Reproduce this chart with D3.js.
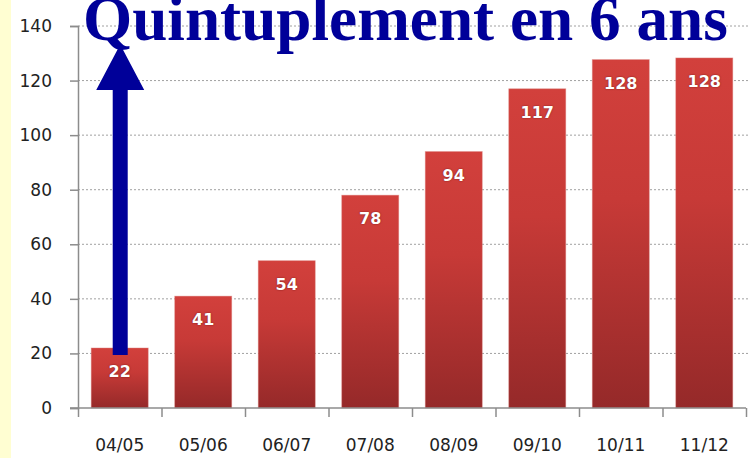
<!DOCTYPE html>
<html>
<head>
<meta charset="utf-8">
<script src="https://cdn.jsdelivr.net/npm/d3@7"></script>
<style>
  html, body { margin: 0; padding: 0; background: #fff; }
  #chart { width: 749px; height: 458px; position: relative; }
</style>
</head>
<body>
<div id="chart"></div>
<script>
//Données
const saisons = ['04/05', '05/06', '06/07', '07/08', '08/09', '09/10', '10/11', '11/12'];
const valeurs = [22, 41, 54, 78, 94, 117, 127.7, 128.3];
const yTicks = [0, 20, 40, 60, 80, 100, 120, 140];
const titre = 'Quintuplement en 6 ans';

const COLOR_TITLE = '#000099',
    COLOR_BAR_TOP = '#D2403C',
    COLOR_BAR_MID = '#C73A37',
    COLOR_BAR_BOTTOM = '#952929',
    COLOR_AXIS = '#8c8c8c',
    COLOR_GRID = '#a0a0a0';

let width = 749, height = 458;
let margin = {top: 26, right: 3, bottom: 50, left: 78};

let svg = d3.select('#chart')
    .append('svg')
    .attr('width', width)
    .attr('height', height);

//Bande jaune à gauche
svg.append('rect')
    .attr('x', 0).attr('y', 0)
    .attr('width', 11).attr('height', height)
    .attr('fill', '#FFFED2');

let x = d3.scaleBand()
    .domain(saisons)
    .range([margin.left, width - margin.right])
    .paddingInner(0.317)
    .paddingOuter(0.158);

let y = d3.scaleLinear()
    .domain([0, 140])
    .range([height - margin.bottom, margin.top]);

//Dégradé des barres
let defs = svg.append('defs');
let grad = defs.append('linearGradient')
    .attr('id', 'barGrad')
    .attr('x1', 0).attr('y1', 0).attr('x2', 0).attr('y2', 1);
grad.append('stop').attr('offset', '0%').attr('stop-color', COLOR_BAR_TOP);
grad.append('stop').attr('offset', '40%').attr('stop-color', COLOR_BAR_MID);
grad.append('stop').attr('offset', '100%').attr('stop-color', COLOR_BAR_BOTTOM);

//Grille
svg.append('g')
    .selectAll('line')
    .data(yTicks.filter(d => d > 0))
    .enter()
    .append('line')
    .attr('x1', margin.left).attr('x2', width)
    .attr('y1', d => y(d)).attr('y2', d => y(d))
    .attr('stroke', COLOR_GRID)
    .attr('stroke-width', 1)
    .attr('stroke-dasharray', '2,2');

//Axe Y
let yAxis = svg.append('g')
    .attr('transform', 'translate(' + margin.left + ',0)')
    .call(d3.axisLeft(y).tickValues(yTicks).tickSize(8).tickPadding(18));
yAxis.select('.domain').attr('stroke', COLOR_AXIS).attr('stroke-width', 1.5);
yAxis.selectAll('.tick line').attr('stroke', COLOR_AXIS).attr('stroke-width', 1.5);
yAxis.selectAll('text')
    .attr('font-family', 'DejaVu Sans, Verdana, sans-serif')
    .attr('font-size', 17)
    .attr('fill', '#222');

//Barres
svg.append('g')
    .selectAll('rect')
    .data(valeurs)
    .enter()
    .append('rect')
    .attr('x', (d, i) => x(saisons[i]))
    .attr('y', d => y(d))
    .attr('width', x.bandwidth())
    .attr('height', d => y(0) - y(d))
    .attr('fill', 'url(#barGrad)')
    .attr('stroke', '#e08a86')
    .attr('stroke-opacity', 0.5)
    .attr('stroke-width', 0.8);

//Étiquettes des barres
svg.append('g')
    .selectAll('text')
    .data(valeurs)
    .enter()
    .append('text')
    .attr('x', (d, i) => x(saisons[i]) + x.bandwidth() / 2)
    .attr('y', d => y(d) + 29)
    .attr('text-anchor', 'middle')
    .attr('font-family', 'DejaVu Sans, Verdana, sans-serif')
    .attr('font-weight', 'bold')
    .attr('font-size', 16)
    .attr('fill', '#fff')
    .style('text-shadow', '0 0 1.5px rgba(90,10,10,0.9)')
    .text(d => Math.round(d));

//Axe X : ligne + graduations aux limites des catégories
let xLim = d3.scaleLinear()
    .domain([0, saisons.length])
    .range([margin.left, width - margin.right]);

let xAxis = svg.append('g')
    .attr('transform', 'translate(0,' + y(0) + ')')
    .call(d3.axisBottom(xLim).ticks(saisons.length).tickSize(9).tickSizeOuter(9).tickFormat(''));
xAxis.select('.domain').remove();
xAxis.selectAll('.tick line').attr('stroke', COLOR_AXIS).attr('stroke-width', 1.5);

svg.append('line')
    .attr('x1', margin.left - 8).attr('x2', width - margin.right)
    .attr('y1', y(0)).attr('y2', y(0))
    .attr('stroke', COLOR_AXIS)
    .attr('stroke-width', 1.5);

let xLabels = svg.append('g')
    .attr('transform', 'translate(0,' + y(0) + ')')
    .call(d3.axisBottom(x).tickSize(0).tickPadding(31));
xLabels.select('.domain').remove();
xLabels.selectAll('text')
    .attr('font-family', 'DejaVu Sans, Verdana, sans-serif')
    .attr('font-size', 17)
    .attr('fill', '#222');

//Flèche
let ax = x(saisons[0]) + x.bandwidth() / 2 + 0.5;
let shaftW = 15, headW = 48;
let yBase = y(19.4), yHead = y(116.5), yTip = y(133.2);
svg.append('path')
    .attr('d', d3.line()([
        [ax - shaftW / 2, yBase],
        [ax - shaftW / 2, yHead],
        [ax - headW / 2, yHead],
        [ax, yTip],
        [ax + headW / 2, yHead],
        [ax + shaftW / 2, yHead],
        [ax + shaftW / 2, yBase]
    ]) + 'Z')
    .attr('fill', COLOR_TITLE);

//Titre
let title = svg.append('text')
    .attr('x', 83)
    .attr('y', 40)
    .attr('font-family', 'Liberation Serif, Times New Roman, serif')
    .attr('font-weight', 'bold')
    .attr('font-size', 56)
    .attr('fill', COLOR_TITLE)
    .text(titre);

let w = title.node().getComputedTextLength();
title.attr('font-size', 56 * 645 / w);
</script>
</body>
</html>
